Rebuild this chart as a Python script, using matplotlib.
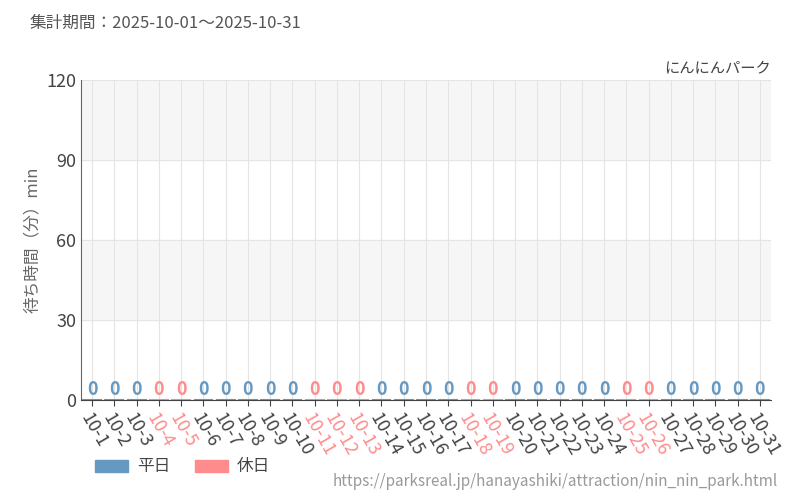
import matplotlib
matplotlib.use("Agg")
import matplotlib.pyplot as plt

plt.rcParams['font.family'] = ['Noto Sans CJK JP', 'DejaVu Sans']

days = [f"10-{d}" for d in range(1, 32)]
holidays = [4, 5, 11, 12, 13, 18, 19, 25, 26]
values = [0] * 31
is_holiday = [d in holidays for d in range(1, 32)]

BLUE = '#6699c2'
RED = '#ff8c8c'

fig = plt.figure(figsize=(8, 5), dpi=100)
ax = fig.add_axes([81/800, 100/500, 690/800, 320/500])
x = list(range(31))
colors = [RED if h else BLUE for h in is_holiday]
ax.bar(x, values, width=0.7, color=colors)
for xi, v, c in zip(x, values, colors):
    ax.plot([xi-0.4, xi+0.4], [v, v], color=c, lw=1.5)
    ax.text(xi, v + 0.5, str(v), ha='center', va='bottom', color=c, fontsize=13, fontweight='bold')

ax.set_xlim(-0.5, 30.5)
ax.set_ylim(0, 120)
ax.set_yticks([0, 30, 60, 90, 120])
for y0 in (30, 90):
    ax.axhspan(y0, y0 + 30, color='#f6f6f6', zorder=0)
ax.grid(True, color='#e4e4e4', lw=0.8)
ax.set_axisbelow(True)
ax.set_xticks(x)
ax.set_xticklabels(days, rotation=-60, ha='left', rotation_mode='anchor', fontsize=13)
for lbl, c in zip(ax.get_xticklabels(), colors):
    lbl.set_color(c if c == RED else '#444444')
ax.tick_params(axis='y', labelsize=13, colors='#444444', length=0)
ax.tick_params(axis='x', length=4, color='#444444')
for s in ('top', 'right'):
    ax.spines[s].set_visible(False)
ax.spines['left'].set_color('#666666')
ax.spines['bottom'].set_color('#444444')
ax.set_ylabel('待ち時間（分）min', color='#666666', fontsize=12)

fig.text(30/800, 1 - 23/500, '集計期間：2025-10-01～2025-10-31', fontsize=12, color='#555555', va='center')
fig.text(771/800, 1 - 69/500, 'にんにんパーク', fontsize=11, color='#444444', ha='right', va='center')
fig.text(778/800, 1 - 482/500, 'https://parksreal.jp/hanayashiki/attraction/nin_nin_park.html',
         fontsize=11, color='#999999', ha='right', va='center')

from matplotlib.patches import Patch
fig.legend(handles=[Patch(color=BLUE, label='平日'), Patch(color=RED, label='休日')],
           loc='center left', bbox_to_anchor=(80/800, 1 - 467/500), ncol=2, frameon=False,
           fontsize=12, handlelength=2, handletextpad=0.5, columnspacing=1.5, labelcolor='#444444')
fig.savefig('out.png')
